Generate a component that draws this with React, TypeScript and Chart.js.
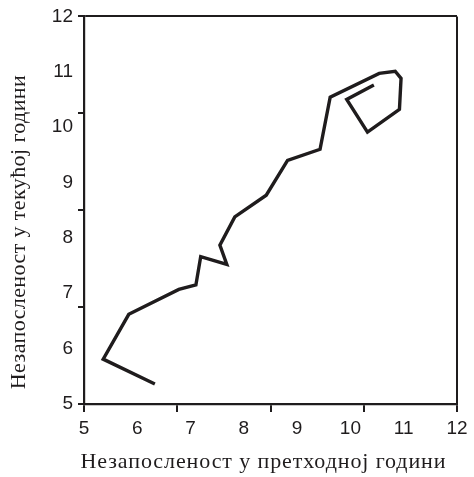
import React, { useEffect, useRef } from "react";
import { Chart, registerables } from "chart.js";

Chart.register(...registerables);

// Unemployment in previous year (x) vs. current year (y)
const prevYear = [6.33, 5.36, 5.84, 6.78, 7.10, 7.19, 7.68, 7.55, 7.83, 8.42, 8.82, 9.43, 9.62, 10.54, 10.84, 10.95, 10.92, 10.32, 9.93, 10.44];
const currYear = [5.36, 5.81, 6.62, 7.07, 7.15, 7.66, 7.52, 7.87, 8.38, 8.77, 9.40, 9.60, 10.54, 10.97, 11.01, 10.88, 10.32, 9.91, 10.50, 10.76];

const axisMin = 5;
const axisMax = 12;
const labelValues = [5, 6, 7, 8, 9, 10, 11, 12];
const tickMarkValues = [5, 6.75, 8.5, 10.25, 12];

const xTitle = "Незапосленост у претходној години";
const yTitle = "Незапосленост у текућој години";

const INK = "#1f1c1d";

const allTicks = Array.from(new Set([...labelValues, ...tickMarkValues])).sort((a, b) => a - b);

const isMark = (v: number) => tickMarkValues.some((m) => Math.abs(m - v) < 1e-9);
const isLabel = (v: number) => labelValues.some((m) => Math.abs(m - v) < 1e-9);

const titlesPlugin = {
  id: "axisTitles",
  afterDraw(chart: any) {
    const { ctx, chartArea } = chart;
    ctx.save();
    ctx.fillStyle = INK;
    ctx.font = '22px "Liberation Serif"';
    ctx.textAlign = "center";
    ctx.textBaseline = "middle";
    (ctx as any).letterSpacing = "0.9px";
    ctx.fillText(xTitle, (chartArea.left + chartArea.right) / 2 - 7, chartArea.bottom + 58);
    (ctx as any).letterSpacing = "0.4px";
    ctx.translate(19, chartArea.bottom - 172);
    ctx.rotate(-Math.PI / 2);
    ctx.fillText(yTitle, 0, 0);
    ctx.restore();
  },
};

function scaleOptions(tickLength: number, padding: number, fit: (s: any) => void) {
  return {
    type: "linear" as const,
    min: axisMin,
    max: axisMax,
    afterBuildTicks: (scale: any) => {
      scale.ticks = allTicks.map((v) => ({ value: v }));
    },
    afterFit: fit,
    ticks: {
      autoSkip: false,
      maxRotation: 0,
      padding,
      color: INK,
      font: { family: '"Liberation Sans", Arial, sans-serif', size: 19 },
      callback: (value: any) => (isLabel(Number(value)) ? String(value) : ""),
    },
    grid: {
      drawOnChartArea: true,
      drawTicks: true,
      tickLength,
      lineWidth: 2,
      tickWidth: 2,
      color: (ctx: any) => (ctx.tick && Math.abs(ctx.tick.value - axisMax) < 1e-9 ? INK : "rgba(0,0,0,0)"),
      tickColor: (ctx: any) => (ctx.tick && isMark(ctx.tick.value) ? INK : "rgba(0,0,0,0)"),
    },
    border: { display: true, color: INK, width: 2.2 },
    title: { display: false },
  };
}

export default function App() {
  const canvasRef = useRef<HTMLCanvasElement | null>(null);

  useEffect(() => {
    document.body.style.margin = "0";
    const canvas = canvasRef.current;
    if (!canvas) return;
    const chart = new Chart(canvas, {
      type: "scatter",
      data: {
        datasets: [
          {
            data: prevYear.map((x, i) => ({ x, y: currYear[i] })),
            showLine: true,
            borderColor: INK,
            borderWidth: 3.4,
            borderJoinStyle: "miter",
            pointRadius: 0,
            pointHoverRadius: 0,
            tension: 0,
            fill: false,
          },
        ],
      },
      options: {
        responsive: false,
        animation: false,
        layout: { padding: { top: 16, right: 17, left: 0, bottom: 0 } },
        plugins: { legend: { display: false }, tooltip: { enabled: false } },
        scales: {
          x: scaleOptions(8, 5, (s: any) => {
            s.height = 73;
          }),
          y: scaleOptions(6, 5, (s: any) => {
            s.width = 84;
          }),
        },
      },
      plugins: [titlesPlugin],
    });
    return () => chart.destroy();
  }, []);

  return (
    <div style={{ position: "fixed", left: 0, top: 0, width: 474, height: 477 }}>
      <canvas ref={canvasRef} width={474} height={477} />
    </div>
  );
}
